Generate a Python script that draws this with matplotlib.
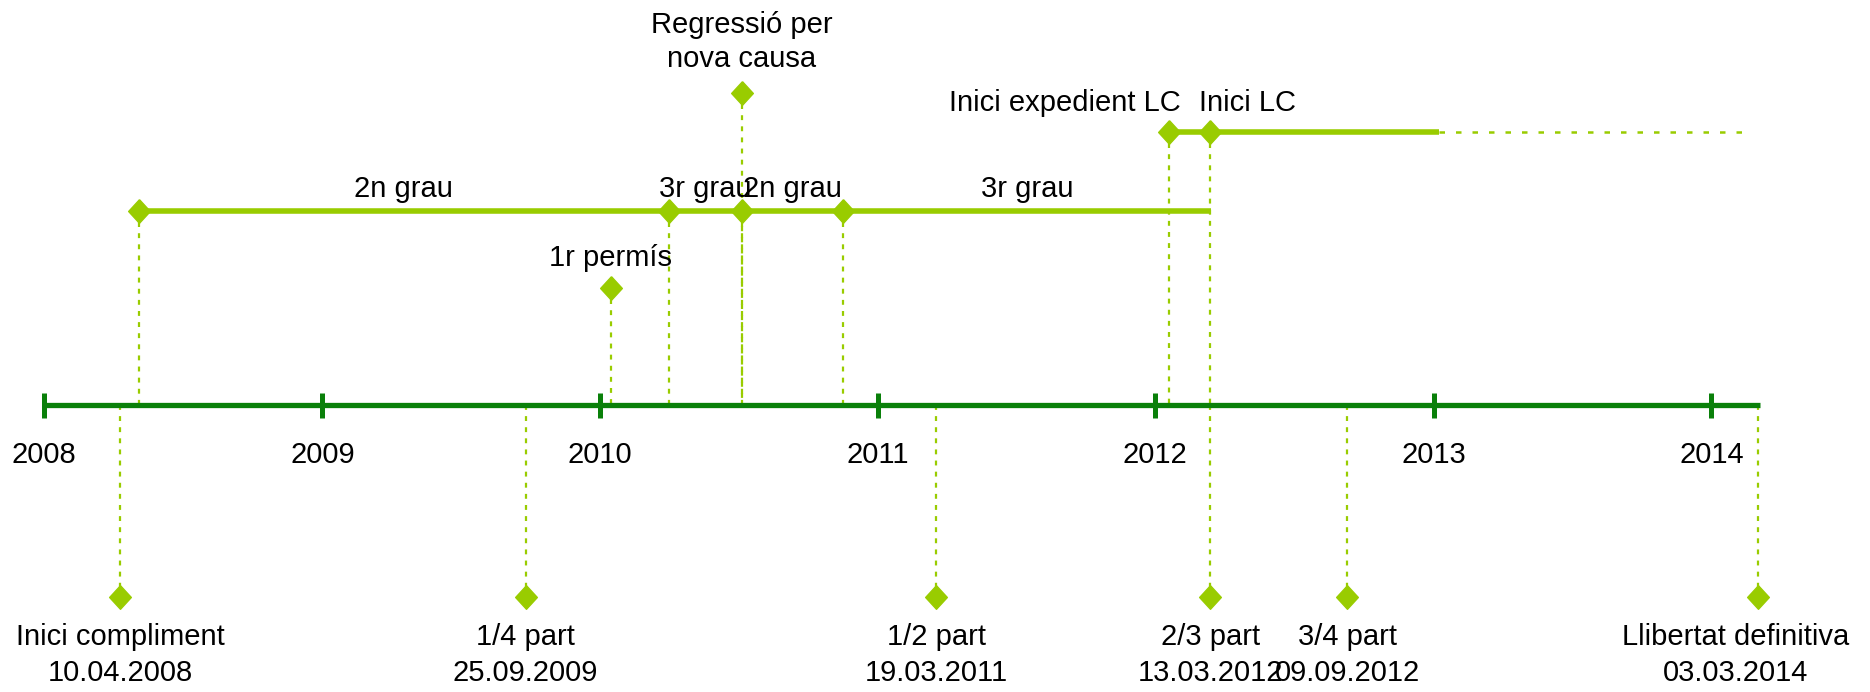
import matplotlib
matplotlib.use("Agg")
import matplotlib.pyplot as plt
import matplotlib.dates as mdates
from datetime import datetime

plt.rcParams['font.family'] = ['Liberation Sans', 'DejaVu Sans']

# ---------------- data ----------------
years = [2008, 2009, 2010, 2011, 2012, 2013, 2014]

bottom_names = ['Inici compliment', '1/4 part', '1/2 part', '2/3 part', '3/4 part', 'Llibertat definitiva']
bottom_dates = ['2008-04-10', '2009-09-25', '2011-03-19', '2012-03-13', '2012-09-09', '2014-03-03']
bottom_date_labels = ['10.04.2008', '25.09.2009', '19.03.2011', '13.03.2012', '09.09.2012', '03.03.2014']

grade_dates = ['2008-05-05', '2010-04-01', '2010-07-06', '2010-11-17']
grade_labels = ['2n grau', '3r grau', '2n grau', '3r grau']
grade_end = '2012-03-14'

permis_label = '1r permís'
permis_date = '2010-01-15'
regression_label = 'Regressió per\nnova causa'
regression_date = '2010-07-06'
lc_labels = ['Inici expedient LC', 'Inici LC']
lc_dates = ['2012-01-19', '2012-03-13']
lc_solid_end = '2013-01-08'
lc_dotted_end = '2014-02-24'
timeline_end = '2014-03-03'

# ---------------- styling ----------------
DARK = '#0a800a'
LIGHT = '#99cc00'
FS = 21

def d(s):
    return mdates.date2num(datetime.strptime(s, '%Y-%m-%d'))

W, H = 1870, 692
fig = plt.figure(figsize=(W / 100, H / 100), dpi=100)
ax = fig.add_axes([0, 0, 1, 1])
ax.set_axis_off()

px_per_day = 0.7606
x0 = mdates.date2num(datetime(2008, 1, 1)) - 44.1 / px_per_day
ax.set_xlim(x0, x0 + W / px_per_day)
ax.set_ylim(H, 0)

# vertical levels (layout, in pixel rows)
Y_AXIS = 405
Y_GRADE = 211
Y_LC = 132
Y_REG = 93
Y_PERMIS = 288
Y_BOTTOM = 597

diamond = [(0, 1), (0.92, 0), (0, -1), (-0.92, 0), (0, 1)]
MS = 17

vdash = dict(color=LIGHT, lw=1.6, linestyle=(0, (2.2, 2.8)), zorder=1)

# vertical dotted connectors
for s in grade_dates:
    ax.plot([d(s), d(s)], [Y_GRADE, Y_AXIS], **vdash)
ax.plot([d(permis_date)] * 2, [Y_PERMIS, Y_AXIS], **vdash)
ax.plot([d(regression_date)] * 2, [Y_REG, Y_AXIS], **vdash)
for s in lc_dates:
    ax.plot([d(s), d(s)], [Y_LC, Y_AXIS], **vdash)
for s in bottom_dates:
    ax.plot([d(s), d(s)], [Y_AXIS, Y_BOTTOM], **vdash)

# main timeline
ax.plot([d('2008-01-01'), d(timeline_end) + 3], [Y_AXIS, Y_AXIS], color=DARK, lw=3.8,
        solid_capstyle='butt', zorder=3)
for yr in years:
    xv = mdates.date2num(datetime(yr, 1, 1))
    ax.plot([xv, xv], [Y_AXIS - 12.5, Y_AXIS + 12.5], color=DARK, lw=3.6,
            solid_capstyle='butt', zorder=3)
    ax.text(xv, 455, str(yr), ha='center', va='center', fontsize=FS, color='black')

# grade line
ax.plot([d(grade_dates[0]), d(grade_end)], [Y_GRADE, Y_GRADE], color=LIGHT, lw=4,
        solid_capstyle='butt', zorder=3)
grade_bounds = grade_dates + [grade_end]
for i, lab in enumerate(grade_labels):
    xm = (d(grade_bounds[i]) + d(grade_bounds[i + 1])) / 2
    ax.text(xm, 189, lab, ha='center', va='center', fontsize=FS, color='black')
ax.plot([d(s) for s in grade_dates], [Y_GRADE] * len(grade_dates), linestyle='none',
        marker=diamond, ms=MS, color=LIGHT, zorder=5)

# LC line
ax.plot([d(lc_dates[0]), d(lc_solid_end)], [Y_LC, Y_LC], color=LIGHT, lw=4,
        solid_capstyle='butt', zorder=3)
ax.plot([d(lc_solid_end), d(lc_dotted_end)], [Y_LC, Y_LC], color=LIGHT, lw=1.8,
        linestyle=(0, (2.2, 4.4)), zorder=3)
ax.plot([d(s) for s in lc_dates], [Y_LC] * 2, linestyle='none',
        marker=diamond, ms=MS, color=LIGHT, zorder=5)
ax.annotate(lc_labels[0], (d(lc_dates[0]), 103), xytext=(12, 0), textcoords='offset pixels',
            ha='right', va='center', fontsize=FS)
ax.annotate(lc_labels[1], (d(lc_dates[1]), 103), xytext=(-11, 0), textcoords='offset pixels',
            ha='left', va='center', fontsize=FS)

# permis
ax.plot([d(permis_date)], [Y_PERMIS], linestyle='none', marker=diamond, ms=MS,
        color=LIGHT, zorder=5)
ax.text(d(permis_date), 258, permis_label, ha='center', va='center', fontsize=FS)

# regression
ax.plot([d(regression_date)], [Y_REG], linestyle='none', marker=diamond, ms=MS,
        color=LIGHT, zorder=5)
ax.text(d(regression_date), 42, regression_label, ha='center', va='center',
        fontsize=FS, linespacing=1.3)

# bottom milestones
ax.plot([d(s) for s in bottom_dates], [Y_BOTTOM] * len(bottom_dates), linestyle='none',
        marker=diamond, ms=MS, color=LIGHT, zorder=5)
for i, (nm, s, dl) in enumerate(zip(bottom_names, bottom_dates, bottom_date_labels)):
    off = -22 if i == len(bottom_names) - 1 else 0
    ax.annotate(nm, (d(s), 637), xytext=(off, 0), textcoords='offset pixels',
                ha='center', va='center', fontsize=FS)
    ax.annotate(dl, (d(s), 673), xytext=(off, 0), textcoords='offset pixels',
                ha='center', va='center', fontsize=FS)

fig.savefig('out.png', dpi=100)
